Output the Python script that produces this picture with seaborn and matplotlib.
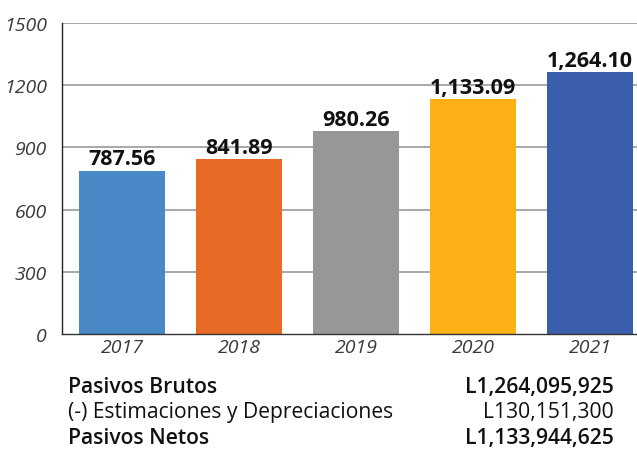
import matplotlib
matplotlib.use("Agg")
import matplotlib.pyplot as plt
import seaborn as sns
import pandas as pd

# datos del grafico
anios = ["2017", "2018", "2019", "2020", "2021"]
pasivos = [787.56, 841.89, 980.26, 1133.09, 1264.10]
colores = ["#4A89C8", "#E96A25", "#979797", "#FBB116", "#3A5EAB"]
y_ticks = [0, 300, 600, 900, 1200, 1500]

resumen_etiquetas = ["Pasivos Brutos", "(-) Estimaciones y Depreciaciones", "Pasivos Netos"]
resumen_valores = ["L1,264,095,925", "L130,151,300", "L1,133,944,625"]
resumen_negrita = [True, False, True]

sns.set_theme(style="white")
plt.rcParams["font.family"] = ["Open Sans", "DejaVu Sans"]
fuente_ejes = ["Liberation Sans Narrow", "Open Sans", "DejaVu Sans"]

df = pd.DataFrame({"anio": anios, "valor": pasivos})

fig = plt.figure(figsize=(6.37, 4.56), dpi=100)
ax = fig.add_axes([62 / 637, 1 - 335 / 456, 1 - 62 / 637, (335 - 24) / 456])

sns.barplot(data=df, x="anio", y="valor", hue="anio", palette=colores,
            width=0.735, legend=False, ax=ax, saturation=1, linewidth=0)

ax.set_ylim(0, 1500)
ax.set_xlim(-0.513, 4.40)
ax.set_yticks(y_ticks)
ax.set_yticklabels([str(t) for t in y_ticks], fontstyle="italic", family=fuente_ejes,
                   color="#3a3a3a", fontsize=14)
ax.set_xticks(range(len(anios)))
ax.set_xticklabels(anios, fontstyle="italic", family=fuente_ejes, color="#3a3a3a", fontsize=14)
ax.set_xlabel("")
ax.set_ylabel("")

# lineas de cuadricula
for t in y_ticks[1:]:
    ax.axhline(t, color="#9a9a9a", lw=1.2, zorder=0)
ax.set_axisbelow(True)

for lado in ["top", "right"]:
    ax.spines[lado].set_visible(False)
ax.spines["left"].set_color("#222222")
ax.spines["left"].set_linewidth(1)
ax.spines["bottom"].set_color("#333333")
ax.spines["bottom"].set_linewidth(1)

ax.tick_params(axis="y", direction="in", length=9, width=1.2, color="#333333", pad=11)
ax.tick_params(axis="x", which="major", length=0, pad=3)
ax.set_xticks([0.5, 1.5, 2.5, 3.5], minor=True)
ax.tick_params(axis="x", which="minor", direction="in", length=8, width=1, color="#555555")

# etiquetas de valores
for i, v in enumerate(pasivos):
    ax.text(i, v + 6, f"{v:,.2f}", ha="center", va="bottom",
            fontsize=15.5, fontweight="bold", color="#111111")

# tabla resumen debajo
filas_y = [393, 418, 444]
for etiqueta, valor, negrita, py in zip(resumen_etiquetas, resumen_valores, resumen_negrita, filas_y):
    peso = "semibold" if negrita else "normal"
    fig.text(68 / 637, 1 - py / 456, etiqueta, ha="left", va="baseline",
             fontsize=15.2, fontweight=peso, color="#111111")
    fig.text(614 / 637, 1 - py / 456, valor, ha="right", va="baseline",
             fontsize=15.2, fontweight=peso, color="#111111")

fig.savefig("out.png", dpi=100)
